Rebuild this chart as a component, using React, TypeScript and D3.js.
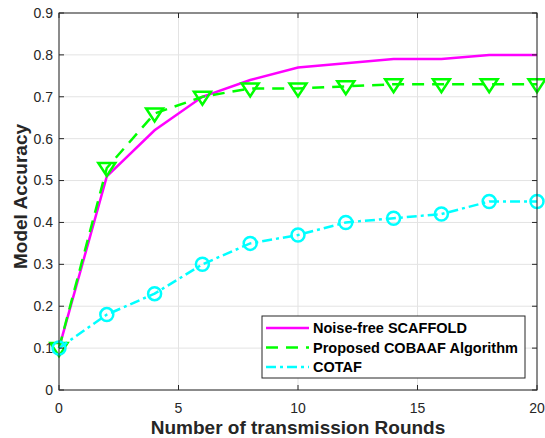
import React, { useEffect, useRef } from "react";
import * as d3 from "d3";

const rounds = [0, 2, 4, 6, 8, 10, 12, 14, 16, 18, 20];
const scaffold = [0.1, 0.51, 0.62, 0.7, 0.74, 0.77, 0.78, 0.79, 0.79, 0.8, 0.8];
const cobaaf = [0.1, 0.53, 0.66, 0.7, 0.72, 0.72, 0.725, 0.73, 0.73, 0.73, 0.73];
const cotaf = [0.1, 0.18, 0.23, 0.3, 0.35, 0.37, 0.4, 0.41, 0.42, 0.45, 0.45];
const xTicks = [0, 5, 10, 15, 20];
const yTicks = [0, 0.1, 0.2, 0.3, 0.4, 0.5, 0.6, 0.7, 0.8, 0.9];
const seriesNames = ["Noise-free SCAFFOLD", "Proposed COBAAF Algorithm", "COTAF"];

const App = () => {
  const svgRef = useRef<SVGSVGElement>(null);

  useEffect(() => {
    const width = 545;
    const height = 438;
    const m = { left: 59, right: 8, top: 13, bottom: 48 };
    const axisColor = "#262626";

    const svg = d3.select(svgRef.current);
    svg.selectAll("*").remove();
    svg.attr("width", width).attr("height", height).style("font-family", "'Liberation Sans', Arial, sans-serif");

    const x = d3.scaleLinear().domain([0, 20]).range([m.left, width - m.right]);
    const y = d3.scaleLinear().domain([0, 0.9]).range([height - m.bottom, m.top]);

    svg.append("rect").attr("width", width).attr("height", height).attr("fill", "white");

    // grid
    const grid = svg.append("g").attr("stroke", "#e3e3e3").attr("stroke-width", 1);
    grid.selectAll(".gx").data(xTicks).join("line")
      .attr("x1", (d) => x(d)).attr("x2", (d) => x(d))
      .attr("y1", y(0)).attr("y2", y(0.9));
    grid.selectAll(".gy").data(yTicks).join("line")
      .attr("x1", x(0)).attr("x2", x(20))
      .attr("y1", (d) => y(d)).attr("y2", (d) => y(d));

    const line = d3.line<number>().x((_, i) => x(rounds[i])).y((d) => y(d));

    // series
    svg.append("path").datum(scaffold).attr("d", line)
      .attr("fill", "none").attr("stroke", "#ff00ff").attr("stroke-width", 2.5);

    svg.append("path").datum(cobaaf).attr("d", line)
      .attr("fill", "none").attr("stroke", "#00ff00").attr("stroke-width", 2.5)
      .attr("stroke-dasharray", "12,8");
    svg.append("g").selectAll("path").data(cobaaf).join("path")
      .attr("d", (d, i) => {
        const cx = x(rounds[i]);
        const cy = y(d);
        return `M${cx - 8.5},${cy - 5}L${cx + 8.5},${cy - 5}L${cx},${cy + 8}Z`;
      })
      .attr("fill", "none").attr("stroke", "#00ff00").attr("stroke-width", 2.5);

    svg.append("path").datum(cotaf).attr("d", line)
      .attr("fill", "none").attr("stroke", "#00ffff").attr("stroke-width", 2.5)
      .attr("stroke-dasharray", "10,4,3,4");
    svg.append("g").selectAll("circle").data(cotaf).join("circle")
      .attr("cx", (_, i) => x(rounds[i])).attr("cy", (d) => y(d)).attr("r", 6.5)
      .attr("fill", "none").attr("stroke", "#00ffff").attr("stroke-width", 2.5);

    // axes box
    svg.append("rect")
      .attr("x", x(0)).attr("y", y(0.9))
      .attr("width", x(20) - x(0)).attr("height", y(0) - y(0.9))
      .attr("fill", "none").attr("stroke", axisColor).attr("stroke-width", 1);

    const tl = 5;
    const ticks = svg.append("g").attr("stroke", axisColor).attr("stroke-width", 1);
    xTicks.forEach((t) => {
      ticks.append("line").attr("x1", x(t)).attr("x2", x(t)).attr("y1", y(0)).attr("y2", y(0) - tl);
      ticks.append("line").attr("x1", x(t)).attr("x2", x(t)).attr("y1", y(0.9)).attr("y2", y(0.9) + tl);
    });
    yTicks.forEach((t) => {
      ticks.append("line").attr("x1", x(0)).attr("x2", x(0) + tl).attr("y1", y(t)).attr("y2", y(t));
      ticks.append("line").attr("x1", x(20)).attr("x2", x(20) - tl).attr("y1", y(t)).attr("y2", y(t));
    });

    svg.append("g").selectAll("text").data(xTicks).join("text")
      .attr("x", (d) => x(d)).attr("y", y(0) + 23)
      .attr("text-anchor", "middle").attr("fill", axisColor).style("font-size", "14px")
      .text((d) => d3.format("d")(d));

    svg.append("g").selectAll("text").data(yTicks).join("text")
      .attr("x", x(0) - 6).attr("y", (d) => y(d)).attr("dy", "0.35em")
      .attr("text-anchor", "end").attr("fill", axisColor).style("font-size", "14px")
      .text((d) => (d === 0 ? "0" : d3.format(".1f")(d)));

    svg.append("text")
      .attr("x", (x(0) + x(20)) / 2).attr("y", height - 4)
      .attr("text-anchor", "middle").attr("fill", axisColor)
      .style("font-size", "19px").style("font-weight", "bold")
      .text("Number of transmission Rounds");

    svg.append("text")
      .attr("transform", `translate(27,${(y(0) + y(0.9)) / 2 - 5}) rotate(-90)`)
      .attr("text-anchor", "middle").attr("fill", axisColor)
      .style("font-size", "19px").style("font-weight", "bold")
      .text("Model Accuracy");

    // legend
    const lg = svg.append("g").attr("transform", "translate(262,316)");
    lg.append("rect").attr("width", 263).attr("height", 62)
      .attr("fill", "white").attr("stroke", axisColor).attr("stroke-width", 1);
    const styles = [
      { color: "#ff00ff", dash: null },
      { color: "#00ff00", dash: "12,8" },
      { color: "#00ffff", dash: "10,4,3,4" },
    ];
    seriesNames.forEach((name, i) => {
      const yy = 12 + i * 19.5;
      lg.append("line").attr("x1", 4).attr("x2", 47).attr("y1", yy).attr("y2", yy)
        .attr("stroke", styles[i].color).attr("stroke-width", 2.5)
        .attr("stroke-dasharray", styles[i].dash);
      lg.append("text").attr("x", 51).attr("y", yy).attr("dy", "0.36em")
        .attr("fill", "black").style("font-size", "14.5px").style("font-weight", "bold")
        .text(name);
    });
  }, []);

  return <svg ref={svgRef} style={{ position: "absolute", left: 0, top: 0 }}></svg>;
};

export default App;
